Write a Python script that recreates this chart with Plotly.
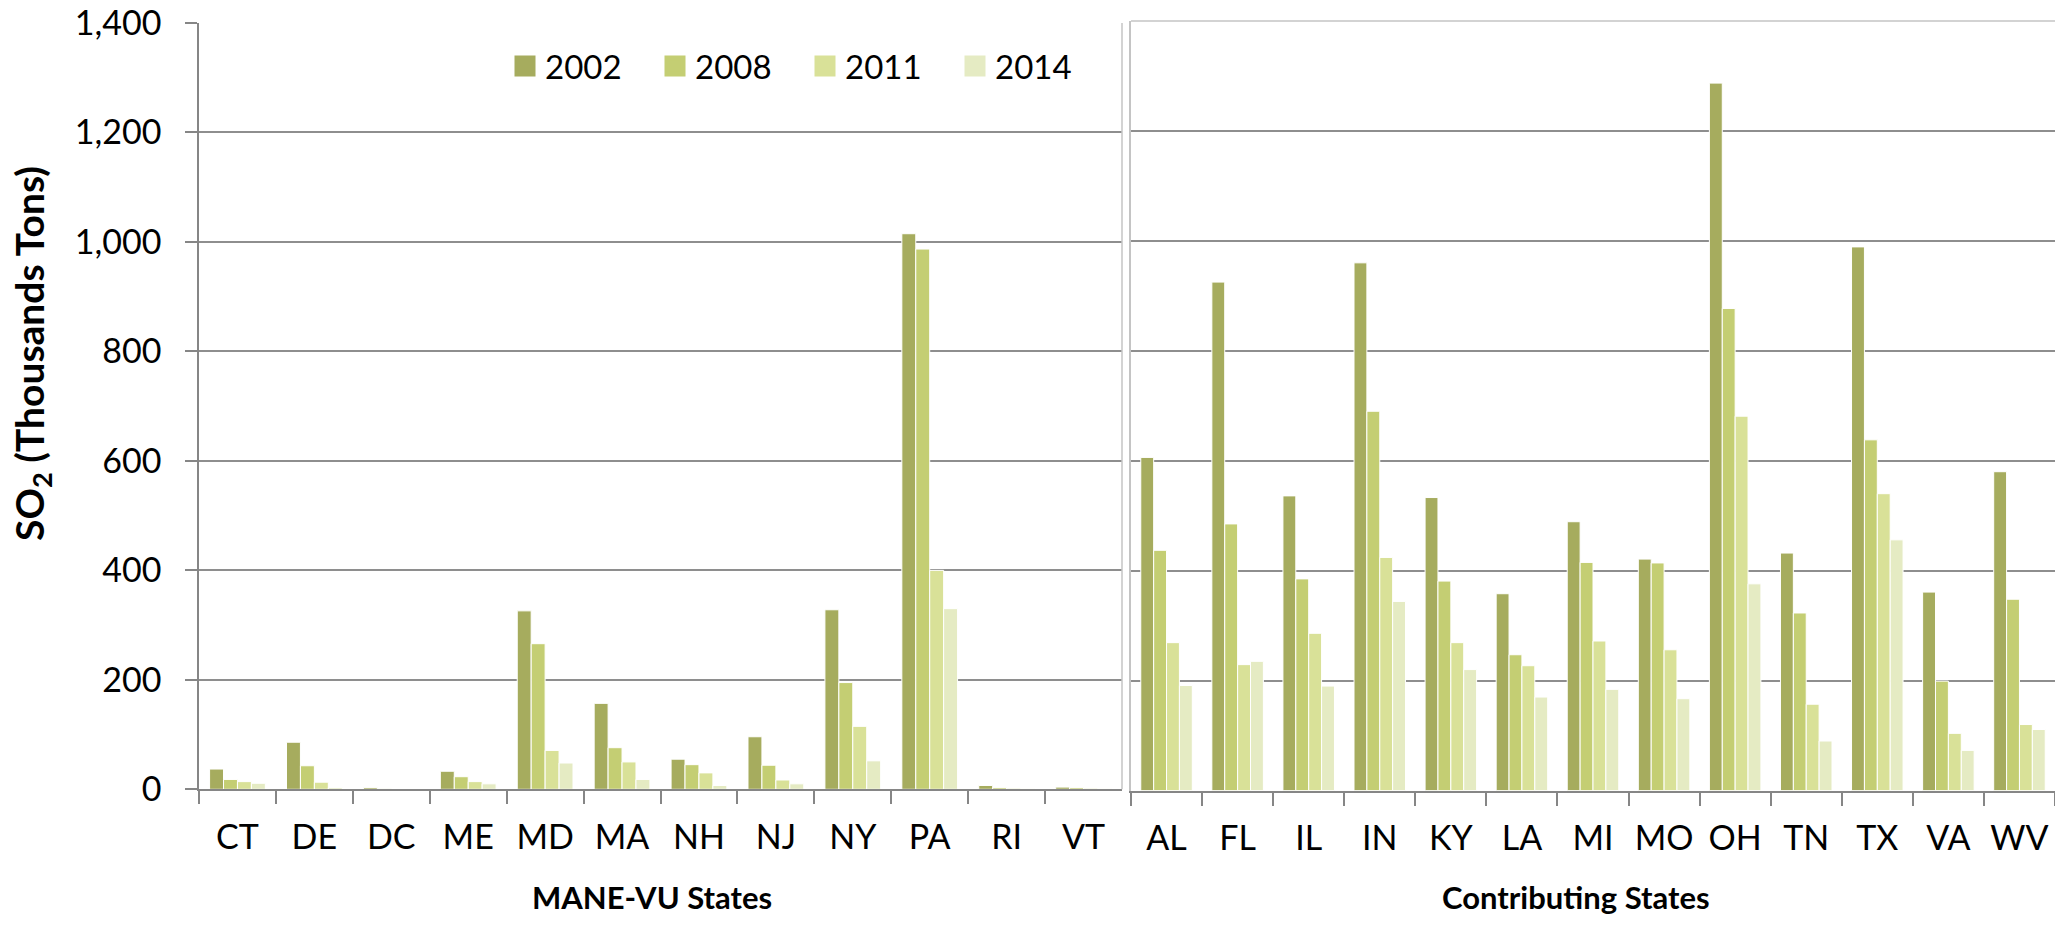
import plotly.graph_objects as go

# SO2 emissions, thousands of tons
mane_states = ["CT", "DE", "DC", "ME", "MD", "MA", "NH", "NJ", "NY", "PA", "RI", "VT"]
mane_2002 = [37, 86, 3, 33, 326, 157, 55, 96, 328, 1015, 7, 4]
mane_2008 = [18, 43, 1, 23, 266, 76, 45, 44, 195, 987, 3, 3]
mane_2011 = [14, 13, 0.5, 14, 71, 50, 30, 17, 115, 400, 2, 2]
mane_2014 = [11, 3, 0.3, 10, 48, 18, 7, 10, 52, 330, 1, 1]

contrib_states = ["AL", "FL", "IL", "IN", "KY", "LA", "MI", "MO", "OH", "TN", "TX", "VA", "WV"]
contrib_2002 = [606, 925, 536, 960, 533, 358, 489, 421, 1287, 432, 989, 361, 580]
contrib_2008 = [437, 485, 385, 690, 381, 247, 415, 414, 877, 323, 638, 199, 348]
contrib_2011 = [269, 229, 286, 424, 269, 227, 272, 256, 681, 157, 540, 104, 120]
contrib_2014 = [191, 235, 190, 344, 220, 170, 184, 167, 376, 90, 456, 73, 111]

years = ["2002", "2008", "2011", "2014"]
colors = ["#A6AC5E", "#C4CE73", "#D9E198", "#E5EBC3"]

W, H = 2055, 938
FONT = "Lato, 'Open Sans', sans-serif"
GRID = "#8E8E8E"
AXIS = "#868686"
FRAME = "#C4C4C4"

fig = go.Figure()

mane = [mane_2002, mane_2008, mane_2011, mane_2014]
contrib = [contrib_2002, contrib_2008, contrib_2011, contrib_2014]
for i, yr in enumerate(years):
    fig.add_trace(go.Bar(x=mane_states, y=mane[i], name=yr, marker_color=colors[i],
                         marker_line=dict(color="white", width=1),
                         xaxis="x", yaxis="y", showlegend=False))
    fig.add_trace(go.Bar(x=contrib_states, y=contrib[i], name=yr, marker_color=colors[i],
                         marker_line=dict(color="white", width=1),
                         xaxis="x2", yaxis="y2", showlegend=False))
    # legend-only entry with a bigger square swatch
    fig.add_trace(go.Scatter(x=[None], y=[None], mode="markers", name=yr,
                             marker=dict(symbol="square", size=16, color=colors[i],
                                         line=dict(color=colors[i], width=5)),
                             xaxis="x", yaxis="y"))

yleft = [(938 - 789.3) / H, (938 - 23) / H]
yright = [(938 - 790.5) / H, (938 - 21) / H]

fig.update_layout(
    width=W, height=H,
    margin=dict(l=0, r=0, t=0, b=0),
    paper_bgcolor="white", plot_bgcolor="white",
    font=dict(family=FONT, size=33, color="black"),
    barmode="group", bargap=0.275, bargroupgap=0,
    showlegend=True,
    legend=dict(orientation="h", x=505 / W, xanchor="left", y=(938 - 66) / H, yanchor="middle",
                bgcolor="rgba(0,0,0,0)", font=dict(size=33, family=FONT),
                entrywidth=105, entrywidthmode="pixels", itemwidth=30, itemsizing="trace",
                traceorder="normal"),
    xaxis=dict(domain=[199 / W, 1122 / W], anchor="y", showline=True, linecolor=AXIS, linewidth=2,
               ticks="outside", tickson="boundaries", ticklen=13, tickcolor=AXIS, tickwidth=1.5,
               ticklabelstandoff=17, showgrid=False, tickfont=dict(size=34), automargin=False),
    yaxis=dict(domain=yleft, anchor="x", range=[0, 1400], dtick=200, tickformat=",d",
               showline=True, linecolor=AXIS, linewidth=1.5, ticks="outside", ticklen=12,
               tickcolor=AXIS, tickwidth=1.5, ticklabelstandoff=17, tickfont=dict(size=34),
               showgrid=True, gridcolor=GRID, gridwidth=1.5, zeroline=False, automargin=False),
    xaxis2=dict(domain=[1131 / W, 1.0], anchor="y2", showline=True, linecolor=AXIS, linewidth=2,
                ticks="outside", tickson="boundaries", ticklen=13, tickcolor=AXIS, tickwidth=1.5,
                ticklabelstandoff=17, showgrid=False, tickfont=dict(size=34), automargin=False),
    yaxis2=dict(domain=yright, anchor="x2", range=[0, 1400], dtick=200, showticklabels=False,
                showline=True, linecolor=FRAME, linewidth=1.5, ticks="",
                showgrid=True, gridcolor=GRID, gridwidth=1.5, zeroline=False, automargin=False),
)

# panel frames
fig.add_shape(type="line", xref="x domain", yref="y domain", x0=1, x1=1, y0=0, y1=1,
              line=dict(color=FRAME, width=1.5))
fig.add_shape(type="line", xref="x2 domain", yref="y2 domain", x0=0, x1=1, y0=1, y1=1,
              line=dict(color=FRAME, width=1.5))

fig.add_annotation(text="<b>SO<sub>2</sub> (Thousands Tons)</b>", textangle=-90,
                   xref="paper", yref="paper", x=32 / W, y=(938 - 354) / H,
                   xanchor="center", yanchor="middle", showarrow=False,
                   font=dict(size=39, family=FONT))
fig.add_annotation(text="<b>MANE-VU States</b>", xref="paper", yref="paper",
                   x=652 / W, y=(938 - 897) / H, xanchor="center", yanchor="middle",
                   showarrow=False, font=dict(size=31, family=FONT))
fig.add_annotation(text="<b>Contributing States</b>", xref="paper", yref="paper",
                   x=1576 / W, y=(938 - 897) / H, xanchor="center", yanchor="middle",
                   showarrow=False, font=dict(size=31, family=FONT))

# drop the default page margin so the figure sits at the window's top-left corner
fig.write_html("out.html", config={"displayModeBar": False},
               post_script="document.body.style.margin='0';")
